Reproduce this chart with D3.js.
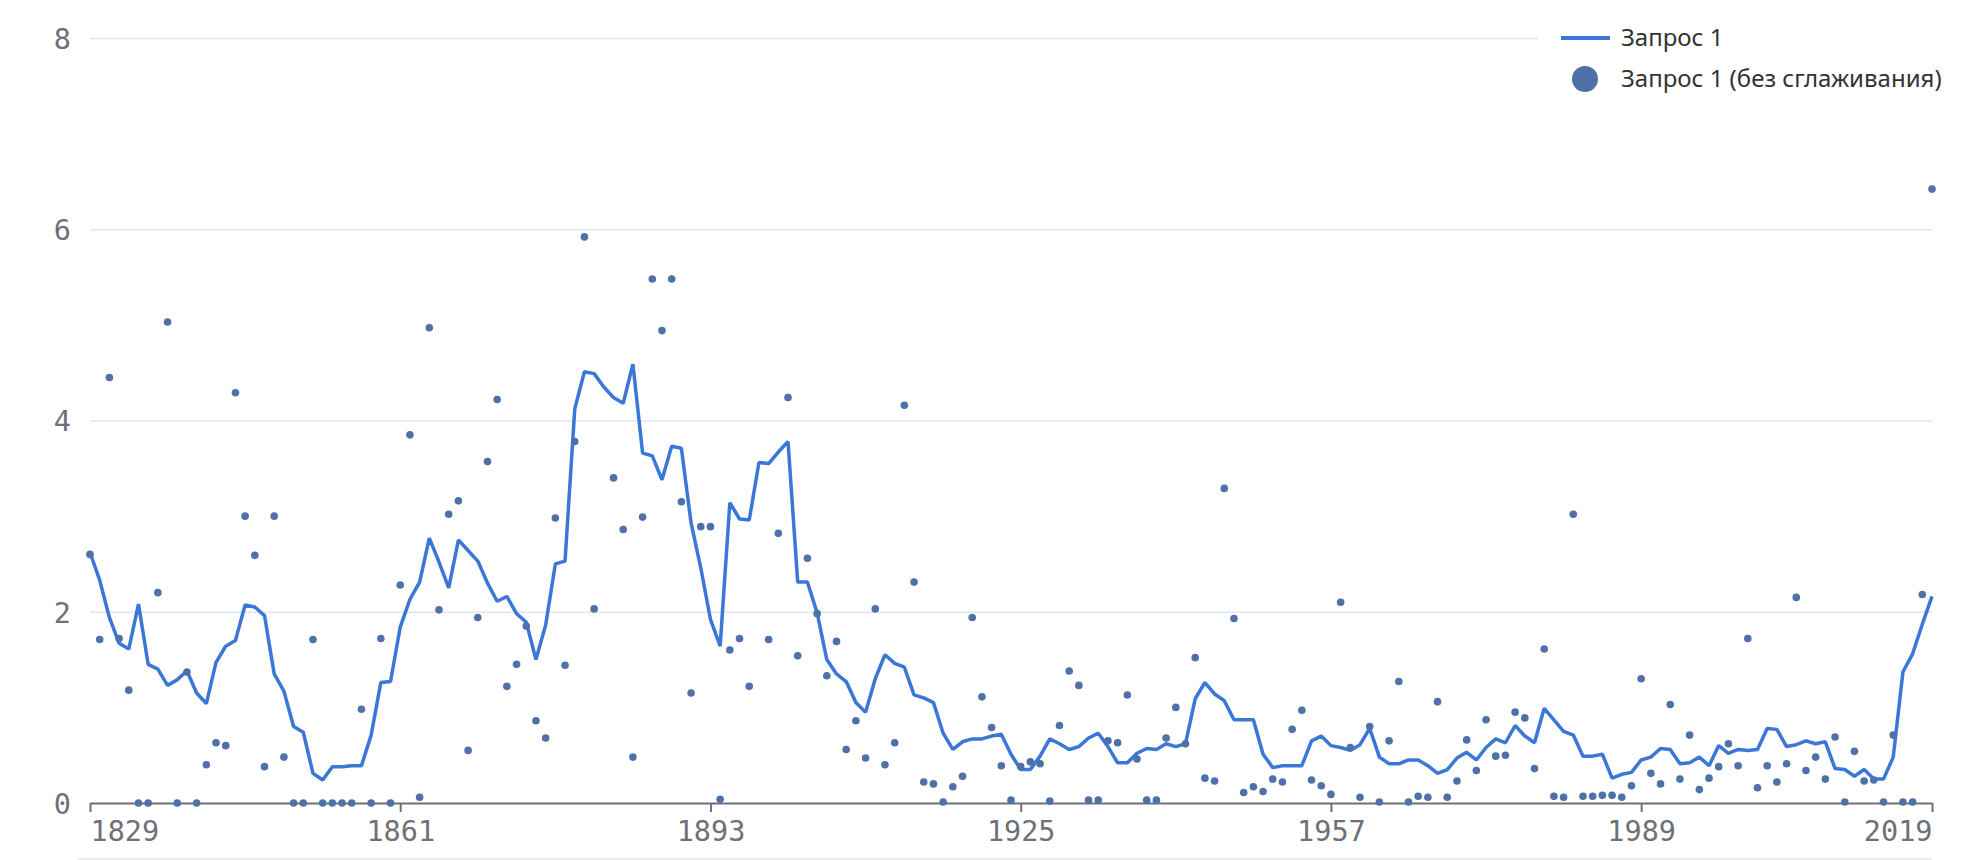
<!DOCTYPE html>
<html>
<head>
<meta charset="utf-8">
<script src="https://cdn.jsdelivr.net/npm/d3@7"></script>
<style>
  html, body { margin: 0; padding: 0; background: #fff; }
  svg { display: block; }
</style>
</head>
<body>
<svg id="chart" width="1980" height="860"></svg>
<script>
// ---- data ----
const firstYear = 1829;
const lastYear = 2019;
const years = d3.range(firstYear, lastYear + 1);

// raw yearly values ("без сглаживания"); 1882 and 1898 lie above the plot
const rawValues = [
  2.60, 1.71, 4.45, 1.72, 1.18, 0, 0, 2.20, 5.03, 0,
  1.37, 0, 0.40, 0.63, 0.60, 4.29, 3.00, 2.59, 0.38, 3.00,
  0.48, 0, 0, 1.71, 0, 0, 0, 0, 0.98, 0,
  1.72, 0, 2.28, 3.85, 0.06, 4.97, 2.02, 3.02, 3.16, 0.55,
  1.94, 3.57, 4.22, 1.22, 1.45, 1.85, 0.86, 0.68, 2.98, 1.44,
  3.78, 5.92, 2.03, 12.0, 3.40, 2.86, 0.48, 2.99, 5.48, 4.94,
  5.48, 3.15, 1.15, 2.89, 2.89, 0.04, 1.60, 1.72, 1.22, 11.62,
  1.71, 2.82, 4.24, 1.54, 2.56, 1.98, 1.33, 1.69, 0.56, 0.86,
  0.47, 2.03, 0.40, 0.63, 4.16, 2.31, 0.22, 0.20, 0.01, 0.17,
  0.28, 1.94, 1.11, 0.79, 0.39, 0.03, 0.38, 0.43, 0.41, 0.02,
  0.81, 1.38, 1.23, 0.03, 0.03, 0.65, 0.63, 1.13, 0.46, 0.03,
  0.03, 0.68, 1.00, 0.62, 1.52, 0.26, 0.23, 3.29, 1.93, 0.11,
  0.17, 0.12, 0.25, 0.22, 0.77, 0.97, 0.24, 0.18, 0.09, 2.10,
  0.58, 0.06, 0.80, 0.01, 0.65, 1.27, 0.01, 0.07, 0.06, 1.06,
  0.06, 0.23, 0.66, 0.34, 0.87, 0.49, 0.50, 0.95, 0.89, 0.36,
  1.61, 0.07, 0.06, 3.02, 0.07, 0.07, 0.08, 0.08, 0.06, 0.18,
  1.30, 0.31, 0.20, 1.03, 0.25, 0.71, 0.14, 0.26, 0.38, 0.62,
  0.39, 1.72, 0.16, 0.39, 0.22, 0.41, 2.15, 0.34, 0.48, 0.25,
  0.69, 0.01, 0.54, 0.23, 0.24, 0.01, 0.71, 0.01, 0.01, 2.18,
  6.42
];

// smoothed values ("Запрос 1")
const smoothValues = [
  2.62, 2.33, 1.94, 1.67, 1.61, 2.08, 1.45, 1.40, 1.23, 1.29,
  1.38, 1.15, 1.04, 1.47, 1.64, 1.70, 2.07, 2.05, 1.96, 1.35,
  1.17, 0.80, 0.74, 0.31, 0.24, 0.38, 0.38, 0.39, 0.39, 0.71,
  1.26, 1.27, 1.84, 2.13, 2.31, 2.77, 2.52, 2.25, 2.75, 2.64,
  2.53, 2.30, 2.11, 2.16, 1.98, 1.89, 1.50, 1.86, 2.50, 2.53,
  4.12, 4.51, 4.49, 4.35, 4.24, 4.18, 4.59, 3.66, 3.63, 3.38,
  3.73, 3.71, 2.93, 2.46, 1.92, 1.64, 3.14, 2.97, 2.96, 3.56,
  3.55, 3.67, 3.78, 2.31, 2.31, 1.99, 1.50, 1.35, 1.27, 1.05,
  0.95, 1.30, 1.55, 1.46, 1.42, 1.13, 1.10, 1.05, 0.73, 0.56,
  0.64, 0.67, 0.67, 0.70, 0.72, 0.51, 0.35, 0.35, 0.49, 0.67,
  0.62, 0.56, 0.59, 0.68, 0.73, 0.59, 0.42, 0.42, 0.52, 0.57,
  0.56, 0.62, 0.59, 0.62, 1.09, 1.26, 1.14, 1.07, 0.87, 0.87,
  0.87, 0.51, 0.37, 0.39, 0.39, 0.39, 0.65, 0.70, 0.60, 0.58,
  0.55, 0.61, 0.78, 0.48, 0.41, 0.41, 0.45, 0.45, 0.39, 0.31,
  0.35, 0.47, 0.53, 0.45, 0.58, 0.67, 0.63, 0.81, 0.70, 0.63,
  0.99, 0.87, 0.75, 0.71, 0.49, 0.49, 0.51, 0.26, 0.30, 0.32,
  0.45, 0.48, 0.57, 0.56, 0.41, 0.42, 0.48, 0.39, 0.60, 0.52,
  0.56, 0.55, 0.56, 0.78, 0.77, 0.59, 0.61, 0.65, 0.62, 0.64,
  0.36, 0.35, 0.28, 0.35, 0.25, 0.25, 0.48, 1.37, 1.56, 1.87,
  2.16
];

const xTickLabels = [1829, 1861, 1893, 1925, 1957, 1989, 2019];
const yTickLabels = [0, 2, 4, 6, 8];
const seriesNames = ["Запрос 1", "Запрос 1 (без сглаживания)"];

// ---- layout ----
const M = { left: 90, right: 1932, top: 38, bottom: 803 };
const lineColor = "#3a77d6";
const dotColor = "#4e71a8";
const axisColor = "#6e7079";
const gridColor = "#e0e6f1";

const svg = d3.select("#chart");
const x = d3.scaleLinear().domain([firstYear, lastYear]).range([M.left, M.right]);
const y = d3.scaleLinear().domain([0, 8]).range([M.bottom, M.top]);

svg.append("defs").append("clipPath").attr("id", "plotclip")
  .append("rect").attr("x", M.left - 10).attr("y", M.top - 6)
  .attr("width", M.right - M.left + 20).attr("height", M.bottom - M.top + 16);

// grid + y labels
const yAxis = d3.axisLeft(y).tickValues(yTickLabels).tickSize(-(M.right - M.left)).tickFormat(d3.format("d"));
const gy = svg.append("g").attr("transform", `translate(${M.left},0)`).call(yAxis);
gy.select(".domain").remove();
gy.selectAll(".tick line").attr("stroke", gridColor).attr("stroke-width", 1.5)
  .attr("display", d => d === 0 ? "none" : null);
gy.selectAll(".tick text")
  .attr("x", -19).attr("dy", "0.36em")
  .attr("fill", axisColor)
  .style("font-family", "'DejaVu Sans Mono', monospace")
  .style("font-size", "28.5px");

// bottom faint line
svg.append("line").attr("x1", 78).attr("x2", M.right).attr("y1", 859).attr("y2", 859)
  .attr("stroke", "#e3e8ef").attr("stroke-width", 1.5);

// x axis
const xAxis = d3.axisBottom(x).tickValues(xTickLabels).tickSize(9).tickSizeOuter(0).tickFormat(d3.format("d"));
const gx = svg.append("g").attr("transform", `translate(0,${M.bottom})`).call(xAxis);
gx.select(".domain").attr("stroke", axisColor).attr("stroke-width", 2);
gx.selectAll(".tick line").attr("stroke", axisColor).attr("stroke-width", 2);
gx.selectAll(".tick text")
  .attr("y", 18).attr("dy", "0.71em")
  .attr("fill", axisColor)
  .style("font-family", "'DejaVu Sans Mono', monospace")
  .style("font-size", "28.5px")
  .attr("text-anchor", d => d === xTickLabels[0] ? "start" : (d === xTickLabels[xTickLabels.length - 1] ? "end" : "middle"));

// plot
const plot = svg.append("g").attr("clip-path", "url(#plotclip)");
const lineGen = d3.line().x((d, i) => x(years[i])).y(d => y(d));
plot.append("path").datum(smoothValues)
  .attr("d", lineGen)
  .attr("fill", "none").attr("stroke", lineColor).attr("stroke-width", 3.5)
  .attr("stroke-linejoin", "bevel");

plot.selectAll("circle.dot").data(rawValues).join("circle")
  .attr("class", "dot")
  .attr("cx", (d, i) => x(years[i]))
  .attr("cy", d => y(d))
  .attr("r", 3.8)
  .attr("fill", dotColor);

// legend
const lg = svg.append("g");
lg.append("rect").attr("x", 1538).attr("y", 12).attr("width", 440).attr("height", 90).attr("fill", "#fff");
lg.append("line").attr("x1", 1561).attr("x2", 1610).attr("y1", 38).attr("y2", 38)
  .attr("stroke", lineColor).attr("stroke-width", 4);
lg.append("circle").attr("cx", 1585).attr("cy", 79).attr("r", 13).attr("fill", dotColor);
lg.selectAll("text.lgt").data(seriesNames).join("text")
  .attr("class", "lgt")
  .attr("x", 1621)
  .attr("y", (d, i) => 38 + i * 41)
  .attr("dy", "0.35em")
  .attr("fill", "#333")
  .style("font-family", "'Noto Sans', sans-serif")
  .style("font-size", "24px")
  .text(d => d);
</script>
</body>
</html>
